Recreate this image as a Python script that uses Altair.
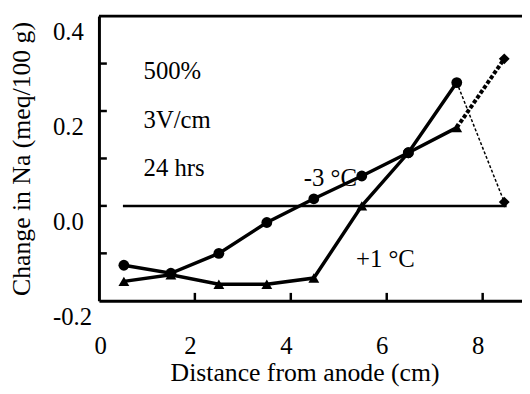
import altair as alt
import pandas as pd

# ---- data ----
distance = [0.52, 1.5, 2.5, 3.5, 4.48, 5.48, 6.45, 7.46, 8.45]
minus3 = [-0.125, -0.142, -0.10, -0.035, 0.015, 0.063, 0.112, 0.165, 0.31]
plus1 = [-0.159, -0.145, -0.165, -0.165, -0.152, 0.0, 0.112, 0.26, 0.008]
minus3_shape = ["circle"] * 7 + ["triangle-up", "diamond"]
plus1_shape = ["triangle-up"] * 6 + ["circle", "circle", "diamond"]

zero_line_x = [0.5, 8.5]
y_tick_values = [-0.1, 0.0, 0.1, 0.2, 0.3]
x_tick_values = [2, 4, 6, 8]
y_label_values = [-0.2, 0.0, 0.2, 0.4]
x_label_values = [0, 2, 4, 6, 8]

notes = ["500%", "3V/cm", "24 hrs", "-3 °C", "+1 °C"]
notes_x = [0.93, 0.93, 0.93, 4.27, 5.36]
notes_y = [0.285, 0.18, 0.08, 0.058, -0.112]

FONT = "Liberation Serif"
FS = 25

rows = []
for i, x in enumerate(distance):
    rows.append({"series": "-3", "x": x, "y": minus3[i], "shape": minus3_shape[i], "idx": i})
    rows.append({"series": "+1", "x": x, "y": plus1[i], "shape": plus1_shape[i], "idx": i})
df = pd.DataFrame(rows)

xs = alt.Scale(domain=[0, 8.82], nice=False, zero=False)
ys = alt.Scale(domain=[-0.2, 0.4], nice=False, zero=False)

X = alt.X("x:Q", scale=xs,
          axis=alt.Axis(values=x_label_values, title="Distance from anode (cm)",
                        grid=False, tickSize=0, labelPadding=33, labelOffset=-5,
                        domainColor="black", domainWidth=3,
                        labelFont=FONT, labelFontSize=FS, labelColor="black",
                        titleFont=FONT, titleFontSize=26, titleFontWeight="normal",
                        titleColor="black", titleX=208, titleY=73,
                        titleBaseline="middle", titleAlign="center",
                        labelExpr="format(datum.value, 'd')"))
Y = alt.Y("y:Q", scale=ys,
          axis=alt.Axis(values=y_label_values, title="Change in Na (meq/100 g)",
                        grid=False, tickSize=0, labelPadding=47, labelAlign="left",
                        labelOffset=16, domainColor="black", domainWidth=3,
                        labelFont=FONT, labelFontSize=FS, labelColor="black",
                        titleFont=FONT, titleFontSize=26, titleFontWeight="normal",
                        titleColor="black", titleX=-78, titleY=144, titleAngle=-90,
                        titleBaseline="middle", titleAlign="center",
                        labelExpr="replace(format(datum.value, '.1f'), '\u2212', '-')"))

base = alt.Chart(df)

solid = base.transform_filter("datum.idx <= 7").mark_line(
    color="black", strokeWidth=3.5
).encode(x=X, y=Y, detail="series:N", order="idx:Q")

dash_m3 = base.transform_filter("datum.idx >= 7 && datum.series == '-3'").mark_line(
    color="black", strokeWidth=4, strokeDash=[4, 2]
).encode(x="x:Q", y="y:Q", order="idx:Q")

dash_p1 = base.transform_filter("datum.idx >= 7 && datum.series == '+1'").mark_line(
    color="black", strokeWidth=1.5, strokeDash=[3, 2]
).encode(x="x:Q", y="y:Q", order="idx:Q")

pts = base.mark_point(filled=True, color="black", size=120, opacity=1).encode(
    x="x:Q", y="y:Q",
    shape=alt.Shape("shape:N", scale=None, legend=None),
)

zero_df = pd.DataFrame({"x": [zero_line_x[0]], "x2": [zero_line_x[1]], "y": [0.0]})
zero = alt.Chart(zero_df).mark_rule(color="black", strokeWidth=2.5).encode(
    x="x:Q", x2="x2:Q", y="y:Q")

ytk = alt.Chart(pd.DataFrame({"v": y_tick_values})).mark_rule(
    color="black", strokeWidth=2.5).encode(
    y=alt.Y("v:Q", scale=ys), x=alt.value(0), x2=alt.value(8))

xtk = alt.Chart(pd.DataFrame({"v": x_tick_values})).mark_rule(
    color="black", strokeWidth=2.5).encode(
    x=alt.X("v:Q", scale=xs), y=alt.value(288), y2=alt.value(280))

top = alt.Chart(pd.DataFrame({"a": [0]})).mark_rule(
    color="black", strokeWidth=3).encode(
    x=alt.value(0), x2=alt.value(428), y=alt.value(0))

notes_df = pd.DataFrame({"t": notes, "x": notes_x, "y": notes_y})
txt = alt.Chart(notes_df).mark_text(
    font=FONT, fontSize=FS, align="left", baseline="middle", color="black"
).encode(x="x:Q", y="y:Q", text="t:N")

chart = alt.layer(solid, dash_m3, dash_p1, zero, ytk, xtk, top, pts, txt).properties(
    width=428, height=288,
    autosize=alt.AutoSizeParams(type="none"),
    padding={"left": 92, "top": 6, "right": 0, "bottom": 86},
).configure_view(stroke=None).configure(background="white")

chart.save("out.html", embed_options={"renderer": "svg", "actions": False})
